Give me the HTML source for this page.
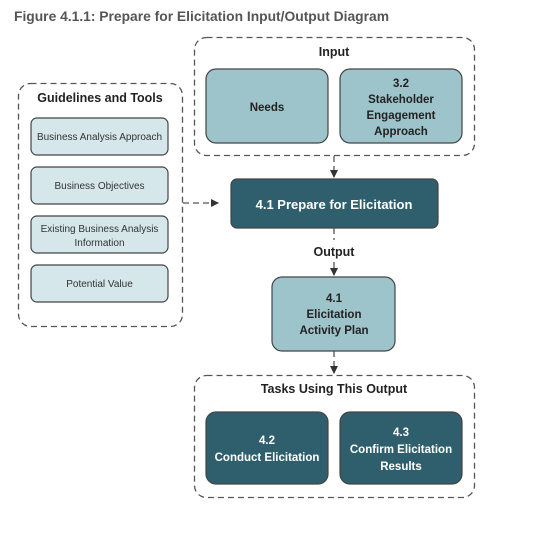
<!DOCTYPE html>
<html><head><meta charset="utf-8"><style>
body{margin:0;background:#fff;width:537px;height:534px;overflow:hidden;font-family:"Liberation Sans",sans-serif;}
</style></head><body>
<svg width="537" height="534" xmlns="http://www.w3.org/2000/svg" font-family="Liberation Sans, sans-serif">
<defs><marker id="a" markerWidth="8" markerHeight="8" refX="7" refY="4" orient="auto" markerUnits="userSpaceOnUse"><path d="M0,0 L8,4 L0,8z" fill="#333"/></marker></defs>
<text x="14" y="21" font-size="13.5" font-weight="bold" fill="#555" textLength="375" lengthAdjust="spacingAndGlyphs">Figure 4.1.1: Prepare for Elicitation Input/Output Diagram</text>
<g fill="none" stroke="#555" stroke-width="1.3" stroke-dasharray="6,4">
<rect x="194.5" y="37.5" width="280" height="118" rx="12"/>
<rect x="18.5" y="83.5" width="164" height="243" rx="12"/>
<rect x="194.5" y="375.5" width="280" height="122" rx="12"/>
<line x1="334" y1="156" x2="334" y2="177" marker-end="url(#a)"/>
<line x1="183" y1="203" x2="218" y2="203" marker-end="url(#a)"/>
<line x1="334" y1="228" x2="334" y2="240"/>
<line x1="334" y1="262" x2="334" y2="275" marker-end="url(#a)"/>
<line x1="334" y1="351" x2="334" y2="373" marker-end="url(#a)"/>
</g>
<g stroke="#444" stroke-width="1.2">
<rect x="206" y="69" width="122" height="74" rx="10" fill="#9dc3cb"/>
<rect x="340" y="69" width="122" height="74" rx="10" fill="#9dc3cb"/>
<rect x="31" y="118" width="137" height="37" rx="6" fill="#d5e7ea"/>
<rect x="31" y="167" width="137" height="37" rx="6" fill="#d5e7ea"/>
<rect x="31" y="216" width="137" height="37" rx="6" fill="#d5e7ea"/>
<rect x="31" y="265" width="137" height="37" rx="6" fill="#d5e7ea"/>
<rect x="231" y="179" width="207" height="49" rx="6" fill="#2f5f6d"/>
<rect x="272" y="277" width="123" height="74" rx="10" fill="#9dc3cb"/>
<rect x="206" y="412" width="122" height="72" rx="10" fill="#2f5f6d"/>
<rect x="340" y="412" width="122" height="72" rx="10" fill="#2f5f6d"/>
</g>
<g font-weight="bold" fill="#222" font-size="12.5" text-anchor="middle">
<text x="334" y="56">Input</text>
<text x="100" y="102">Guidelines and Tools</text>
<text x="334" y="256">Output</text>
<text x="334" y="393">Tasks Using This Output</text>
<g font-size="11.5">
<text x="267" y="111">Needs</text>
<text x="401" y="87">3.2</text>
<text x="401" y="103">Stakeholder</text>
<text x="401" y="119">Engagement</text>
<text x="401" y="135">Approach</text>
<text x="334" y="302">4.1</text>
<text x="334" y="318">Elicitation</text>
<text x="334" y="334">Activity Plan</text>
</g>
<g fill="#fff" font-size="11.5">
<text x="334" y="209" font-size="13">4.1 Prepare for Elicitation</text>
<text x="267" y="444">4.2</text>
<text x="267" y="461">Conduct Elicitation</text>
<text x="401" y="436">4.3</text>
<text x="401" y="453">Confirm Elicitation</text>
<text x="401" y="470">Results</text>
</g>
</g>
<g font-size="10" fill="#333" text-anchor="middle">
<text x="99.5" y="140">Business Analysis Approach</text>
<text x="99.5" y="189">Business Objectives</text>
<text x="99.5" y="232">Existing Business Analysis</text>
<text x="99.5" y="246">Information</text>
<text x="99.5" y="287">Potential Value</text>
</g>
</svg>
</body></html>
